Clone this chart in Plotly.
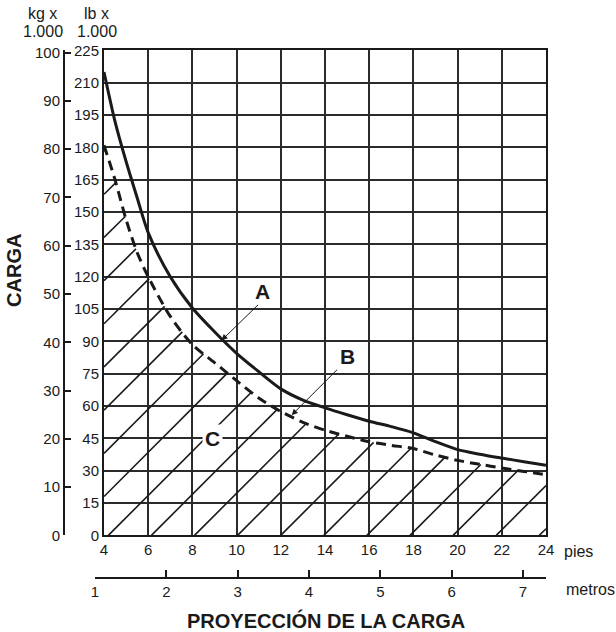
import numpy as np
import plotly.graph_objects as go

# alcance (pies) y carga (lb x 1.000)
pies = [4, 4.5, 5, 5.5, 6, 7, 8, 9, 10, 11, 12, 13, 14, 15, 16, 17, 18, 19, 20, 21, 22, 23, 24]
carga_a = [215, 192, 173.5, 156.7, 140.5, 120, 105.5, 94.5, 84.5, 76, 68, 62.8, 59.2, 56, 53, 50.5, 47.6, 43.5, 39.8, 37.7, 35.9, 34.2, 32.5]
carga_b = [181, 165, 146.5, 131.3, 120, 101.6, 88.5, 80.2, 71.8, 63.8, 57.5, 52.5, 48.8, 46, 43.5, 41.8, 40.3, 37.3, 34.8, 33, 31.3, 29.7, 28.2]

lb_ticks = list(range(0, 226, 15))
kg_ticks = list(range(0, 101, 10))
pies_ticks = list(range(4, 25, 2))
metros_ticks = [1, 2, 3, 4, 5, 6, 7]

# la captura sale algo comprimida en vertical: se compensa con S
S = 0.985
W, H = 616, 642
ML, MR, MT, MB = 30, 60, 30, 2
PW = W - ML - MR
PH = H - MT - MB
LEFT, RIGHT, TOP, BOTTOM = 104, 546, 50, 534

def fx(px):
    return (px - ML) / PW

def fy(py):
    return (H - MB - py / S) / PH

INK = '#1a1a1a'
NARROW = 'Liberation Sans Narrow, Arial Narrow, Liberation Sans, sans-serif'
SANS = 'Liberation Sans, Arial, sans-serif'

# rayado bajo la curva B (45 grados en pantalla)
px_ft = (RIGHT - LEFT) / (pies[-1] - pies[0])
px_lb = (BOTTOM - TOP) / 225
m = px_ft / px_lb
pitch = 43.1 / px_ft
first = pies[0] + 4.3 / px_ft
xs = np.linspace(pies[0], pies[-1], 4001)
yb = np.interp(xs, pies, carga_b)
hx, hy = [], []
for k in range(-10, 11):
    x0 = first + k * pitch
    if x0 >= pies[-1]:
        break
    xa = max(x0, pies[0])
    ya = m * (xa - x0)
    if ya >= np.interp(xa, pies, carga_b):
        continue
    yl = m * (xs - x0)
    idx = np.where((xs >= xa) & (yl >= yb))[0]
    if len(idx):
        i = idx[0]
        xe, ye = xs[i], yb[i]
    else:
        xe, ye = xs[-1], m * (xs[-1] - x0)
    hx += [xa, xe, None]
    hy += [ya, ye, None]

fig = go.Figure()
fig.add_trace(go.Scatter(x=hx, y=hy, mode='lines', line=dict(color=INK, width=1.6),
                         hoverinfo='skip', showlegend=False))
fig.add_trace(go.Scatter(x=pies, y=carga_b, mode='lines',
                         line=dict(color=INK, width=3, dash='10px,6px', shape='spline', smoothing=0.8),
                         hoverinfo='skip', showlegend=False))
fig.add_trace(go.Scatter(x=pies, y=carga_a, mode='lines',
                         line=dict(color=INK, width=3, shape='spline', smoothing=0.8),
                         hoverinfo='skip', showlegend=False))
# traza invisible para los ejes kg / metros
fig.add_trace(go.Scatter(x=[1, 7], y=[0, 100], xaxis='x2', yaxis='y2', mode='markers',
                         marker=dict(opacity=0), hoverinfo='skip', showlegend=False))

grid = dict(showgrid=True, gridcolor='#2b2b2b', gridwidth=1.5, zeroline=False,
            showline=True, linecolor=INK, linewidth=2, mirror=True, ticks='',
            tickfont=dict(family=NARROW, size=15, color=INK))

fig.update_layout(
    width=W, height=H,
    margin=dict(l=ML, r=MR, t=MT, b=MB),
    paper_bgcolor='white', plot_bgcolor='rgba(0,0,0,0)',
    xaxis=dict(domain=[fx(LEFT), fx(RIGHT)], range=[4, 24], tickvals=pies_ticks, **grid),
    yaxis=dict(domain=[fy(BOTTOM), fy(TOP)], range=[0, 225], tickvals=lb_ticks, **grid),
    xaxis2=dict(domain=[fx(95), fx(RIGHT)], anchor='free', position=fy(577), range=[1, 7.323],
                tickvals=metros_ticks, ticks='inside', ticklen=7, tickwidth=2, tickcolor=INK,
                showline=True, linecolor=INK, linewidth=2, showgrid=False, zeroline=False,
                tickfont=dict(family=NARROW, size=15, color=INK)),
    yaxis2=dict(domain=[fy(BOTTOM), fy(TOP)], anchor='free', position=fx(64), range=[0, 100.45],
                tickvals=kg_ticks, ticks='inside', ticklen=6, tickwidth=2, tickcolor=INK,
                showline=True, linecolor=INK, linewidth=2, showgrid=False, zeroline=False,
                tickfont=dict(family=NARROW, size=15, color=INK)),
)

def txt(x, y, s, size=16, family=SANS, **kw):
    fig.add_annotation(x=fx(x), y=fy(y), xref='paper', yref='paper', text=s, showarrow=False,
                       xanchor='center', yanchor='middle',
                       font=dict(family=family, size=size, color=INK), **kw)

txt(42, 13, 'kg x')
txt(43, 31, '1.000')
txt(96, 13, 'lb x')
txt(97, 31, '1.000')
txt(578, 550, 'pies')
txt(590, 588, 'metros')
txt(326, 619, '<b>PROYECCIÓN DE LA CARGA</b>', size=20)
txt(14, 270, '<b>CARGA</b>', size=20, textangle=-90)

for lab, x, y, bg in [('A', 11.19, 113.4, None), ('B', 15.04, 82.8, None), ('C', 8.89, 45.1, 'white')]:
    fig.add_annotation(x=x, y=y, text='<b>' + lab + '</b>', showarrow=False,
                       xanchor='center', yanchor='middle',
                       font=dict(family=SANS, size=21, color=INK),
                       bgcolor=bg, borderpad=2)

for x, y, ax, ay in [(9.32, 90.5, 38, -37), (12.49, 55.8, 47, -47)]:
    fig.add_annotation(x=x, y=y, ax=ax, ay=ay, text='', showarrow=True,
                       arrowhead=2, arrowsize=1.2, arrowwidth=1, arrowcolor=INK)

# sin margen en el body: la figura empieza en la esquina de la ventana
fig.write_html('out.html', config={'displayModeBar': False},
               post_script="document.body.style.margin='0';")
